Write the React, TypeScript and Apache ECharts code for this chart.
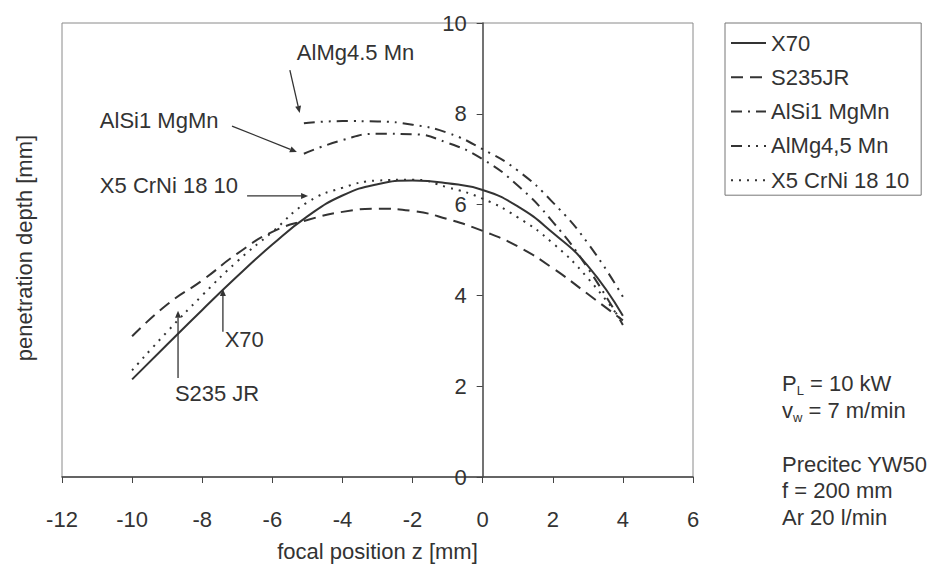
import React, { useEffect, useRef } from 'react';
import * as echarts from 'echarts';

// focal position z [mm]
const zFull = [-10, -9, -8, -7, -6, -5, -4, -3, -2, -1, 0, 1, 2, 3, 4];
const zAl = [-5.1, -4, -3, -2, -1, 0, 1, 2, 3, 4];

// penetration depth [mm]
const x70 = [2.15, 2.92, 3.68, 4.42, 5.12, 5.74, 6.2, 6.45, 6.53, 6.47, 6.32, 5.96, 5.38, 4.65, 3.55];
const s235jr = [3.1, 3.8, 4.33, 4.92, 5.4, 5.66, 5.84, 5.91, 5.86, 5.68, 5.42, 5.08, 4.6, 4.03, 3.45];
const x5CrNi = [2.35, 3.2, 4.0, 4.75, 5.4, 6.05, 6.37, 6.53, 6.55, 6.38, 6.13, 5.72, 5.15, 4.38, 3.4];
const alSi1MgMn = [7.12, 7.42, 7.56, 7.55, 7.36, 7.0, 6.42, 5.62, 4.6, 3.35];
const alMg45Mn = [7.79, 7.84, 7.83, 7.76, 7.58, 7.22, 6.75, 6.05, 5.15, 3.97];

const seriesNames = ['X70', 'S235JR', 'AlSi1 MgMn', 'AlMg4,5 Mn', 'X5 CrNi 18 10'];

// axis ranges
const xMin = -12, xMax = 6, xStep = 2;
const yMin = 0, yMax = 10, yStep = 2;

// annotation labels: text anchor and arrow (from -> tip) in data coordinates
const annoTexts = ['AlMg4.5 Mn', 'AlSi1 MgMn', 'X5 CrNi 18 10', 'X70', 'S235 JR'];
const annoTextAt = [[-5.3, 9.34], [-10.92, 7.86], [-10.92, 6.43], [-7.36, 3.02], [-8.78, 1.85]];
const annoFrom = [[-5.5, 8.96], [-7.15, 7.73], [-6.72, 6.19], [-7.41, 3.2], [-8.69, 2.18]];
const annoTip = [[-5.22, 8.02], [-5.3, 7.16], [-4.98, 6.19], [-7.41, 4.14], [-8.69, 3.66]];

// process parameters block
const paramLines = ['P{s|L} = 10 kW', 'v{s|w} = 7 m/min', 'Precitec YW50', 'f = 200 mm', 'Ar 20 l/min'];
const paramY = [383, 410, 464, 490, 517];

const FONT = "'Liberation Sans', Arial, sans-serif";
const INK = '#333';
const GRID_W = 631;

const pairs = (xs: number[], ys: number[]) => xs.map((x, i) => [x, ys[i]]);

export default function App() {
  const ref = useRef<HTMLDivElement>(null);
  useEffect(() => {
    if (!ref.current) return;
    const chart = echarts.init(ref.current, undefined, { renderer: 'svg' });
    const lineBase = { type: 'line', smooth: true, symbol: 'none', showSymbol: false, z: 3, color: INK, itemStyle: { color: INK } } as any;
    const option: any = {
      animation: false,
      backgroundColor: '#fff',
      color: [INK, INK, INK, INK, INK],
      textStyle: { fontFamily: FONT },
      grid: {
        left: 62, top: 23, width: GRID_W, height: 454, show: true,
        borderColor: '#8a8a8a', borderWidth: 1, backgroundColor: 'transparent',
        containLabel: false, outerBoundsMode: 'none',
      },
      legend: {
        orient: 'vertical', left: 725, top: 23,
        itemWidth: 35, itemHeight: 14, itemGap: 12.3,
        padding: [9, 12, 4, 5],
        borderColor: '#777', borderWidth: 1,
        itemStyle: { opacity: 0 },
        textStyle: { fontSize: 22, color: INK, fontFamily: FONT },
        data: seriesNames,
      },
      xAxis: {
        type: 'value', min: xMin, max: xMax, interval: xStep,
        name: 'focal position z [mm]', nameLocation: 'middle', nameGap: 63,
        nameTextStyle: { fontSize: 22, color: INK, fontFamily: FONT },
        axisLine: { onZero: false, lineStyle: { color: '#444', width: 1.5 } },
        axisTick: { show: true, length: 6, lineStyle: { color: '#444' } },
        axisLabel: { fontSize: 22, color: INK, margin: 31, fontFamily: FONT },
        splitLine: { show: false },
      },
      yAxis: {
        type: 'value', min: yMin, max: yMax, interval: yStep,
        position: 'left',
        offset: -GRID_W * (0 - xMin) / (xMax - xMin),
        axisLine: { show: true, onZero: false, lineStyle: { color: '#444', width: 1.5 } },
        axisTick: { show: true, length: 6, lineStyle: { color: '#444' } },
        axisLabel: { fontSize: 22, color: INK, margin: 16, fontFamily: FONT },
        splitLine: { show: false },
      },
      series: [
        { ...lineBase, name: seriesNames[0], data: pairs(zFull, x70), lineStyle: { color: INK, width: 2, type: 'solid' } },
        { ...lineBase, name: seriesNames[1], data: pairs(zFull, s235jr), lineStyle: { color: INK, width: 2, type: [12, 7] } },
        { ...lineBase, name: seriesNames[2], data: pairs(zAl, alSi1MgMn), lineStyle: { color: INK, width: 2, type: [11, 6, 2, 6] } },
        { ...lineBase, name: seriesNames[3], data: pairs(zAl, alMg45Mn), lineStyle: { color: INK, width: 2, type: [11, 6, 2, 6, 2, 6] } },
        { ...lineBase, name: seriesNames[4], data: pairs(zFull, x5CrNi), lineStyle: { color: INK, width: 2, type: [2, 6] } },
      ],
    };
    chart.setOption(option);

    const graphics: any[] = [];
    // y-axis title
    graphics.push({
      type: 'text', x: 24, y: 248, rotation: Math.PI / 2, z: 10,
      style: { text: 'penetration depth [mm]', fontSize: 22, fill: INK, fontFamily: FONT, align: 'center', verticalAlign: 'middle' },
    });
    annoTexts.forEach((t, i) => {
      const tp = chart.convertToPixel({ gridIndex: 0 }, annoTextAt[i]) as number[];
      const fp = chart.convertToPixel({ gridIndex: 0 }, annoFrom[i]) as number[];
      const ip = chart.convertToPixel({ gridIndex: 0 }, annoTip[i]) as number[];
      graphics.push({
        type: 'text', x: tp[0], y: tp[1], z: 10,
        style: { text: t, fontSize: 22, fill: INK, fontFamily: FONT, verticalAlign: 'middle', align: 'left' },
      });
      const dx = ip[0] - fp[0];
      const dy = ip[1] - fp[1];
      const len = Math.sqrt(dx * dx + dy * dy) || 1;
      const ux = dx / len, uy = dy / len;
      const bx = ip[0] - ux * 7, by = ip[1] - uy * 7;
      graphics.push({
        type: 'line', z: 10,
        shape: { x1: fp[0], y1: fp[1], x2: bx, y2: by },
        style: { stroke: INK, lineWidth: 1.3 },
      });
      graphics.push({
        type: 'polygon', z: 10,
        shape: { points: [[ip[0], ip[1]], [bx - uy * 3, by + ux * 3], [bx + uy * 3, by - ux * 3]] },
        style: { fill: INK },
      });
    });
    paramLines.forEach((t, i) => {
      graphics.push({
        type: 'text', x: 782, y: paramY[i], z: 10,
        style: {
          text: t, fontSize: 22, fill: INK, fontFamily: FONT, verticalAlign: 'middle', align: 'left',
          rich: { s: { fontSize: 13, fill: INK, fontFamily: FONT, verticalAlign: 'bottom', padding: [14, 0, 0, 0] } },
        },
      });
    });
    chart.setOption({ graphic: graphics });

    return () => chart.dispose();
  }, []);
  return <div ref={ref} style={{ position: 'fixed', left: 0, top: 0, width: 931, height: 571 }} />;
}
